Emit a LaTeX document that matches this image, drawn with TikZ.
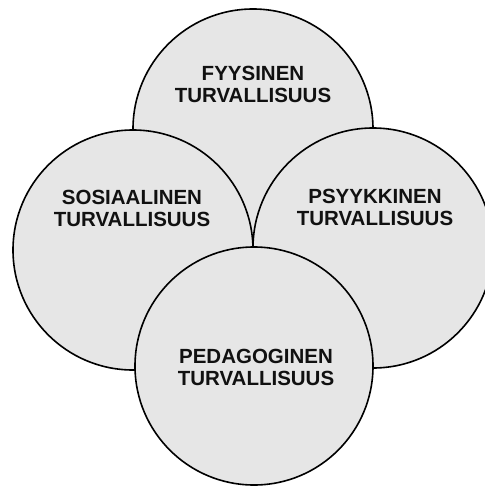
\documentclass[tikz,border=0pt]{standalone}
\usepackage{fontspec}
\setmainfont{Liberation Sans}
\definecolor{circfill}{HTML}{E6E6E6}
\definecolor{txt}{HTML}{111111}
\tikzset{
  area/.style={circle, draw=black, line width=1.6pt, fill=circfill, minimum size=240pt, inner sep=0pt},
  lbl/.style={align=center, inner sep=0pt, text=txt, font=\fontsize{20.5}{22}\selectfont\bfseries}
}
\begin{document}
\begin{tikzpicture}[x=1pt,y=-1pt]
\useasboundingbox (0,0) rectangle (484,486);
\node[area] (top) at (253,129) {};
\node[area] (left) at (133,250) {};
\node[area] (right) at (373,248) {};
\node[area, minimum size=238pt] (bottom) at (254,366) {};
\node[lbl] (ttop) at (253,84) {FYYSINEN\\TURVALLISUUS};
\node[lbl] (tleft) at (132,208) {SOSIAALINEN\\TURVALLISUUS};
\node[lbl] (tright) at (375,207) {PSYYKKINEN\\TURVALLISUUS};
\node[lbl] (tbottom) at (256,367) {PEDAGOGINEN\\TURVALLISUUS};
\end{tikzpicture}
\end{document}
